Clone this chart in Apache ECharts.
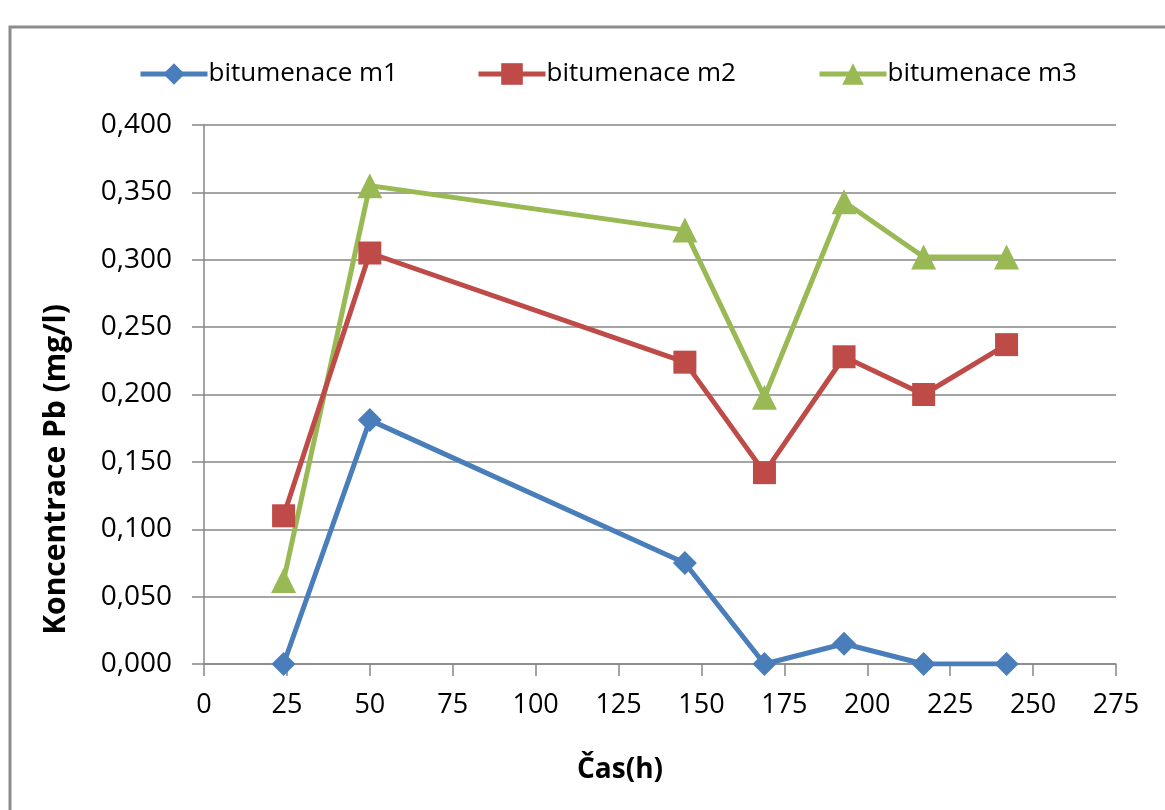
<!DOCTYPE html>
<html><head><meta charset="utf-8">
<script src="https://cdn.jsdelivr.net/npm/echarts@6/dist/echarts.min.js"></script>
<style>html,body{margin:0;padding:0;background:#fff}#c{width:1165px;height:810px}</style>
</head><body><div id="c"></div>
<script>
const times = [24, 50, 145, 169, 193, 217, 242];
const m1 = [0, 0.181, 0.075, 0, 0.015, 0, 0];
const m2 = [0.110, 0.305, 0.224, 0.142, 0.228, 0.200, 0.237];
const m3 = [0.062, 0.355, 0.322, 0.198, 0.343, 0.302, 0.302];
const seriesNames = ['bitumenace m1', 'bitumenace m2', 'bitumenace m3'];
const xTicks = [0, 25, 50, 75, 100, 125, 150, 175, 200, 225, 250, 275];
const yTicks = ['0,000','0,050','0,100','0,150','0,200','0,250','0,300','0,350','0,400'];

const colors = ['#4A7EBB', '#BE4B48', '#98B954'];
const symbols = ['diamond', 'rect', 'triangle'];
const sizes = [24, 23, 25];
const vals = [m1, m2, m3];
const legendLeft = [133, 471, 812];
const font = '"Open Sans", "Noto Sans", sans-serif';
const chart = echarts.init(document.getElementById('c'), null, {renderer: 'canvas'});
chart.setOption({
  animation: false,
  backgroundColor: '#fff',
  graphic: [{type: 'rect', shape: {x: 10, y: 27, width: 1200, height: 850}, style: {fill: 'none', stroke: '#8c8c8c', lineWidth: 3}}],
  legend: seriesNames.map((n, i) => ({
    top: 56, left: legendLeft[i], itemWidth: 67, itemHeight: 27, itemGap: 0,
    lineStyle: {width: 5},
    textStyle: {fontFamily: font, fontSize: 26, color: '#000', padding: [0, 0, 0, -4]},
    data: [n]
  })),
  grid: {left: 204, right: 49, top: 125, bottom: 146, containLabel: false},
  xAxis: {
    type: 'value', min: 0, max: 275, interval: 25,
    name: 'Čas(h)', nameLocation: 'middle', nameGap: 92,
    nameTextStyle: {fontFamily: font, fontSize: 28, fontWeight: 'bold', color: '#000', padding: [0, 80, 0, 0]},
    axisLine: {lineStyle: {color: '#868686', width: 1.5}},
    axisTick: {show: true, length: 12, lineStyle: {color: '#868686', width: 1.5}},
    axisLabel: {fontFamily: font, fontSize: 27, color: '#000', margin: 28,
      formatter: v => xTicks.includes(v) ? String(v) : ''},
    splitLine: {show: false}
  },
  yAxis: {
    type: 'value', min: 0, max: 0.4, interval: 0.05,
    name: 'Koncentrace Pb (mg/l)', nameLocation: 'middle', nameGap: 133, nameRotate: 90,
    nameTextStyle: {fontFamily: font, fontSize: 30, fontWeight: 'bold', color: '#000', padding: [0, 150, 0, 0]},
    axisLine: {show: true, lineStyle: {color: '#868686', width: 1.5}},
    axisTick: {show: true, length: 12, lineStyle: {color: '#868686', width: 1.5}},
    axisLabel: {fontFamily: font, fontSize: 28, color: '#000', margin: 32,
      formatter: v => yTicks[Math.round(v / 0.05)]},
    splitLine: {show: true, lineStyle: {color: '#868686', width: 1.5}}
  },
  series: seriesNames.map((n, i) => ({
    name: n, type: 'line',
    data: times.map((t, j) => [t, vals[i][j]]),
    symbol: symbols[i], symbolSize: sizes[i],
    lineStyle: {color: colors[i], width: 5},
    itemStyle: {color: colors[i]},
    z: 2 + (2 - i)
  }))
});
</script></body></html>
